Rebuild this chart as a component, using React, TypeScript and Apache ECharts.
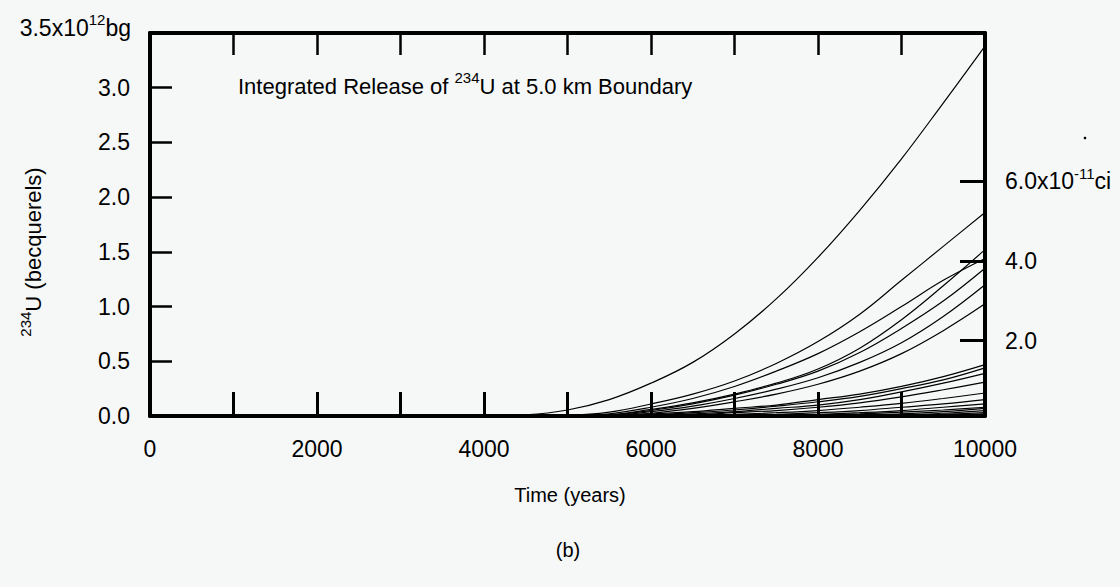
import React, { useEffect, useRef } from "react";
import * as echarts from "echarts";

// Time samples (years) shared by every curve
const YEARS = [0, 4000, 4500, 5000, 5500, 6000, 6500, 7000, 7500, 8000, 8500, 9000, 9500, 10000];

// Integrated release of 234U (units of 1e12 Bq), one array per realization
const CURVE_A = [0, 0, 0.01, 0.055, 0.15, 0.30, 0.49, 0.75, 1.07, 1.45, 1.88, 2.35, 2.86, 3.38];
const CURVE_B = [0, 0, 0, 0.005, 0.035, 0.11, 0.20, 0.32, 0.48, 0.68, 0.93, 1.24, 1.55, 1.86];
const CURVE_C = [0, 0, 0, 0, 0.02, 0.08, 0.16, 0.27, 0.41, 0.57, 0.77, 1.00, 1.24, 1.44];
const CURVE_D = [0, 0, 0, 0, 0.01, 0.06, 0.12, 0.20, 0.30, 0.43, 0.62, 0.88, 1.19, 1.52];
const CURVE_E = [0, 0, 0, 0, 0.01, 0.05, 0.11, 0.19, 0.29, 0.41, 0.58, 0.80, 1.05, 1.35];
const CURVE_F = [0, 0, 0, 0, 0.005, 0.04, 0.09, 0.16, 0.245, 0.35, 0.49, 0.67, 0.91, 1.20];
const CURVE_G = [0, 0, 0, 0, 0, 0.025, 0.07, 0.13, 0.20, 0.29, 0.41, 0.57, 0.78, 1.025];
const CURVE_L1 = [0, 0, 0, 0, 0.005, 0.02, 0.04, 0.07, 0.10, 0.15, 0.20, 0.27, 0.36, 0.47];
const CURVE_L2 = [0, 0, 0, 0, 0, 0.01, 0.03, 0.055, 0.09, 0.13, 0.18, 0.25, 0.33, 0.44];
const CURVE_L3 = [0, 0, 0, 0, 0, 0.005, 0.02, 0.04, 0.07, 0.10, 0.15, 0.22, 0.30, 0.39];
const CURVE_L4 = [0, 0, 0, 0, 0, 0, 0.01, 0.03, 0.05, 0.08, 0.12, 0.175, 0.24, 0.31];
const CURVE_L5 = [0, 0, 0, 0, 0, 0, 0.005, 0.015, 0.03, 0.05, 0.08, 0.115, 0.16, 0.21];
const CURVE_L6 = [0, 0, 0, 0, 0, 0, 0, 0.005, 0.015, 0.03, 0.05, 0.08, 0.11, 0.15];
const CURVE_L7 = [0, 0, 0, 0, 0, 0, 0, 0, 0.005, 0.015, 0.03, 0.05, 0.08, 0.11];
const CURVE_L8 = [0, 0, 0, 0, 0, 0, 0, 0, 0, 0.01, 0.02, 0.035, 0.055, 0.08];
const CURVE_L9 = [0, 0, 0, 0, 0, 0, 0, 0, 0, 0, 0.01, 0.02, 0.04, 0.07];
const CURVE_L10 = [0, 0, 0, 0, 0, 0, 0, 0, 0, 0, 0.005, 0.01, 0.025, 0.05];
const CURVE_L11 = [0, 0, 0, 0, 0, 0, 0, 0, 0, 0, 0, 0.005, 0.015, 0.03];
const CURVE_L12 = [0, 0, 0, 0, 0, 0, 0, 0, 0, 0, 0, 0, 0.008, 0.02];
const CURVE_L13 = [0, 0, 0, 0, 0, 0, 0, 0, 0, 0, 0, 0, 0.003, 0.01];

const CURVES = [
  CURVE_A, CURVE_B, CURVE_C, CURVE_D, CURVE_E, CURVE_F, CURVE_G,
  CURVE_L1, CURVE_L2, CURVE_L3, CURVE_L4, CURVE_L5, CURVE_L6, CURVE_L7,
  CURVE_L8, CURVE_L9, CURVE_L10, CURVE_L11, CURVE_L12, CURVE_L13,
];

// Axis ticks / labels
const X_LABELS = [0, 2000, 4000, 6000, 8000, 10000];
const CI_TICKS = [2, 4, 6];

const FONT = "'Liberation Sans', Arial, Helvetica, sans-serif";

export default function App() {
  const ref = useRef<HTMLDivElement>(null);

  useEffect(() => {
    document.body.style.margin = "0";
    const chart = echarts.init(ref.current!, null, { renderer: "svg" });

    const axisLineStyle = { color: "#000", width: 4 };
    const supStyle = { fontSize: 15, lineHeight: 15, verticalAlign: "top", fontFamily: FONT, color: "#000" };

    const option: any = {
      animation: false,
      backgroundColor: "#f6f8f8",
      grid: { left: 150, right: 135, top: 33, bottom: 171, containLabel: false },
      xAxis: [
        {
          type: "value",
          position: "bottom",
          min: 0,
          max: 10000,
          interval: 1000,
          axisLine: { show: true, onZero: false, lineStyle: axisLineStyle },
          axisTick: { show: true, inside: true, length: 24, lineStyle: { color: "#000", width: 3 } },
          axisLabel: {
            show: true,
            margin: 21,
            fontSize: 23,
            color: "#000",
            fontFamily: FONT,
            formatter: (v: number) => (X_LABELS.indexOf(v) >= 0 ? String(v) : ""),
          },
          splitLine: { show: false },
        },
        {
          type: "value",
          position: "top",
          min: 0,
          max: 10000,
          interval: 1000,
          axisLine: { show: true, onZero: false, lineStyle: axisLineStyle },
          axisTick: { show: true, inside: true, length: 22, lineStyle: { color: "#000", width: 2.5 } },
          axisLabel: { show: false },
          splitLine: { show: false },
        },
      ],
      yAxis: [
        {
          type: "value",
          position: "left",
          min: 0,
          max: 3.5,
          interval: 0.5,
          axisLine: { show: true, onZero: false, lineStyle: axisLineStyle },
          axisTick: { show: true, inside: true, length: 22, lineStyle: { color: "#000", width: 2.5 } },
          axisLabel: {
            show: true,
            margin: 20,
            fontSize: 23,
            color: "#000",
            fontFamily: FONT,
            formatter: (v: number) => (v >= 3.5 ? "" : v.toFixed(1)),
          },
          splitLine: { show: false },
        },
        {
          type: "value",
          position: "right",
          min: 0.106,
          max: 9.729,
          axisLine: { show: true, onZero: false, lineStyle: axisLineStyle },
          axisTick: {
            show: true,
            inside: true,
            length: 25,
            customValues: CI_TICKS,
            lineStyle: { color: "#000", width: 3 },
          },
          axisLabel: {
            show: true,
            margin: 20,
            fontSize: 23,
            lineHeight: 30,
            color: "#000",
            fontFamily: FONT,
            customValues: CI_TICKS,
            formatter: (v: number) => (Math.round(v) === 6 ? "6.0x10{sup|-11}ci" : v.toFixed(1)),
            rich: { sup: supStyle },
          },
          splitLine: { show: false },
        },
      ],
      series: CURVES.map((vals, i) => ({
        type: "line",
        name: "r" + i,
        xAxisIndex: 0,
        yAxisIndex: 0,
        data: YEARS.map((yr, k) => [yr, vals[k]]),
        smooth: 0.4,
        showSymbol: false,
        symbol: "none",
        silent: true,
        lineStyle: { color: "#000", width: 1.2 },
        z: 1,
      })),
      graphic: [
        {
          type: "text",
          x: 131,
          y: 28,
          style: {
            text: "3.5x10{sup|12}bg",
            fontSize: 23,
            lineHeight: 32,
            fontFamily: FONT,
            fill: "#000",
            align: "right",
            verticalAlign: "middle",
            textAlign: "right",
            textVerticalAlign: "middle",
            rich: { sup: supStyle },
          },
        },
        {
          type: "text",
          left: 238,
          top: 70,
          style: {
            text: "Integrated Release of {sup|234}U at 5.0 km Boundary",
            fontSize: 22,
            lineHeight: 32,
            fontFamily: FONT,
            fill: "#000",
            rich: { sup: supStyle },
          },
        },
        {
          type: "text",
          x: 33,
          y: 252,
          rotation: Math.PI / 2,
          style: {
            text: "{sup|234}U (becquerels)",
            fontSize: 22,
            lineHeight: 30,
            fontFamily: FONT,
            fill: "#000",
            align: "center",
            verticalAlign: "middle",
            textAlign: "center",
            textVerticalAlign: "middle",
            rich: { sup: supStyle },
          },
        },
        {
          type: "text",
          x: 570,
          y: 495,
          style: {
            text: "Time (years)",
            fontSize: 20,
            fontFamily: FONT,
            fill: "#000",
            align: "center",
            verticalAlign: "middle",
            textAlign: "center",
            textVerticalAlign: "middle",
          },
        },
        {
          type: "text",
          x: 568,
          y: 550,
          style: {
            text: "(b)",
            fontSize: 20,
            fontFamily: FONT,
            fill: "#000",
            align: "center",
            verticalAlign: "middle",
            textAlign: "center",
            textVerticalAlign: "middle",
          },
        },
        {
          type: "circle",
          shape: { cx: 1085, cy: 138, r: 1.3 },
          style: { fill: "#000" },
          silent: true,
        },
      ],
    };

    chart.setOption(option);
    return () => chart.dispose();
  }, []);

  return <div ref={ref} style={{ width: 1120, height: 587 }} />;
}
